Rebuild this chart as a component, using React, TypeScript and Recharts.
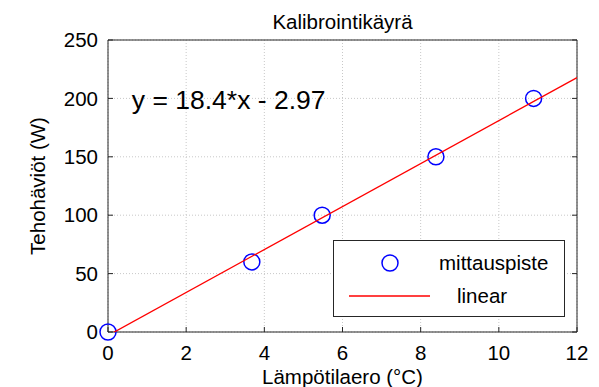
import React from 'react';
import {
  CartesianGrid,
  Legend,
  ReferenceDot,
  Scatter,
  ScatterChart,
  XAxis,
  YAxis,
} from 'recharts';

const tempDiff = [0, 3.68, 5.48, 8.39, 10.89];
const powerLoss = [0, 60, 100, 150, 200];

// fitted line y = 18.4*x - 2.97, evaluated at the axis ends
const fitX = [0, 12];
const fitY = [-2.97, 217.83];

const xTicks = [0, 2, 4, 6, 8, 10, 12];
const yTicks = [0, 50, 100, 150, 200, 250];

const title = 'Kalibrointikäyrä';
const xTitle = 'Lämpötilaero (°C)';
const yTitle = 'Tehohäviöt (W)';
const equation = 'y = 18.4*x - 2.97';
const pointsName = 'mittauspiste';
const fitName = 'linear';

const points = tempDiff.map((x, i) => ({ x, y: powerLoss[i] }));
const fit = fitX.map((x, i) => ({ x, y: fitY[i] }));

const FONT = '"Liberation Sans", Arial, sans-serif';
const AXIS = '#262626';
const BLUE = '#0000ff';
const RED = '#ff0000';

function Ring(props: any) {
  const { cx, cy } = props;
  return <circle cx={cx} cy={cy} r={8} fill="none" stroke={BLUE} strokeWidth={1.5} />;
}

function LegendBox({ payload }: any) {
  // markers first, fitted line second (same as the plot legend)
  const items = [...(payload ?? [])].sort(
    (a: any, b: any) => (a.type === 'line' ? 1 : 0) - (b.type === 'line' ? 1 : 0),
  );
  return (
    <div
      style={{
        boxSizing: 'border-box',
        width: 232,
        height: 77,
        border: `1.5px solid ${AXIS}`,
        background: '#fff',
        padding: '5px 0',
        fontFamily: FONT,
      }}
    >
      {items.map((p: any) => (
        <div key={p.value} style={{ display: 'flex', alignItems: 'center', height: 33 }}>
          <svg width={105} height={20} style={{ flex: 'none' }}>
            {p.type === 'line' ? (
              <line x1={15} x2={96} y1={10} y2={10} stroke={RED} strokeWidth={1.3} />
            ) : (
              <circle cx={56} cy={10} r={8} fill="none" stroke={BLUE} strokeWidth={1.5} />
            )}
          </svg>
          <span style={{ marginLeft: p.type === 'line' ? 18 : 0, fontSize: 20.5, color: '#000' }}>
            {p.value}
          </span>
        </div>
      ))}
    </div>
  );
}

const xLabel = (p: any) => (
  <text
    x={p.viewBox.x + p.viewBox.width / 2}
    y={p.viewBox.y + 52}
    textAnchor="middle"
    fontSize={20.5}
    fontFamily={FONT}
    fill="#000"
  >
    {xTitle}
  </text>
);

const yLabel = (p: any) => {
  const cx = 45;
  const cy = p.viewBox.y + p.viewBox.height / 2;
  return (
    <text
      x={cx}
      y={cy}
      transform={`rotate(-90, ${cx}, ${cy})`}
      textAnchor="middle"
      fontSize={20.5}
      fontFamily={FONT}
      fill="#000"
    >
      {yTitle}
    </text>
  );
};

const titleLabel = (p: any) => (
  <text
    x={p.viewBox.x + p.viewBox.width / 2}
    y={29}
    textAnchor="middle"
    fontSize={20.5}
    fontFamily={FONT}
    fill="#000"
  >
    {title}
  </text>
);

export default function App() {
  return (
    <div
      style={{
        position: 'absolute',
        left: 0,
        top: 0,
        width: 599,
        height: 387,
        background: '#fff',
        fontFamily: FONT,
      }}
    >
      <ScatterChart width={599} height={387} margin={{ top: 39, right: 21, bottom: 0, left: 48 }}>
        <CartesianGrid stroke="#c8c8c8" strokeDasharray="1 2" />
        <XAxis
          type="number"
          dataKey="x"
          domain={[0, 12]}
          ticks={xTicks}
          height={55}
          tickSize={-5}
          tickMargin={18}
          stroke={AXIS}
          tick={{ fill: '#000', fontSize: 20.5, fontFamily: FONT }}
          label={xLabel}
        />
        <XAxis
          xAxisId="top"
          orientation="top"
          type="number"
          dataKey="x"
          domain={[0, 12]}
          ticks={xTicks}
          height={1}
          tickSize={-5}
          stroke={AXIS}
          tickFormatter={() => ''}
          label={titleLabel}
        />
        <YAxis
          type="number"
          dataKey="y"
          domain={[0, 250]}
          ticks={yTicks}
          width={60}
          tickSize={-5}
          tickMargin={15}
          stroke={AXIS}
          tick={{ fill: '#000', fontSize: 20.5, fontFamily: FONT }}
          label={yLabel}
        />
        <YAxis
          yAxisId="right"
          orientation="right"
          type="number"
          dataKey="y"
          domain={[0, 250]}
          ticks={yTicks}
          width={1}
          tickSize={-5}
          stroke={AXIS}
          tickFormatter={() => ''}
          allowDataOverflow
        />
        <Scatter
          name={pointsName}
          data={points}
          shape={Ring}
          legendType="circle"
          fill={BLUE}
          isAnimationActive={false}
        />
        <Scatter
          name={fitName}
          data={fit}
          yAxisId="right"
          line={{ stroke: RED, strokeWidth: 1.3 }}
          shape={() => <g />}
          legendType="line"
          fill={RED}
          isAnimationActive={false}
        />
        <ReferenceDot
          x={0.61}
          y={199}
          r={0}
          fill="none"
          stroke="none"
          label={{ value: equation, position: 'right', offset: 0, fontSize: 26.5, fill: '#000', fontFamily: FONT }}
        />
        <Legend
          layout="horizontal"
          verticalAlign="middle"
          align="center"
          content={LegendBox}
          wrapperStyle={{ left: 333, top: 240, width: 232, height: 77 }}
        />
      </ScatterChart>
    </div>
  );
}
